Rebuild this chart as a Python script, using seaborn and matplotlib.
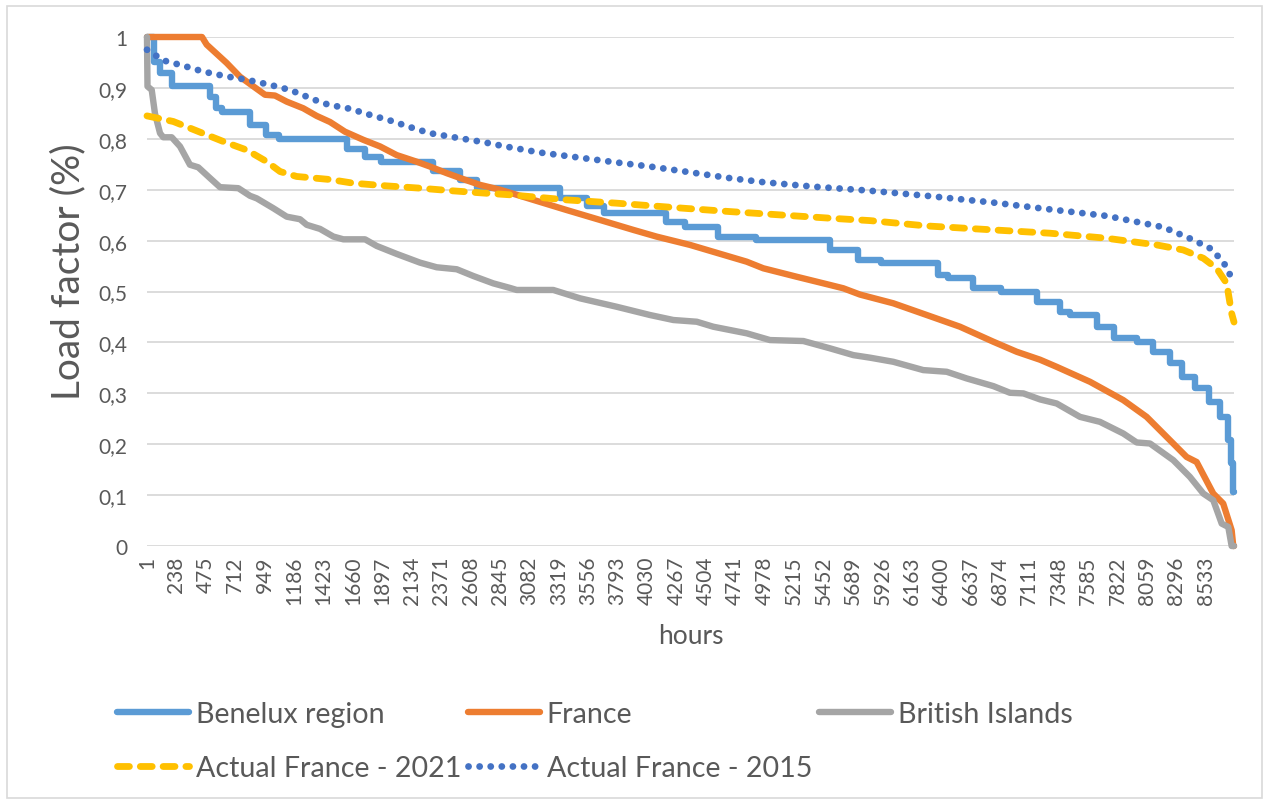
import matplotlib
matplotlib.use("Agg")
import matplotlib.pyplot as plt
from matplotlib.patches import Rectangle
import seaborn as sns

# Load duration curves: hours of the year sorted by load factor
benelux_hours = [1, 57, 106, 202, 509, 557, 605, 831, 960, 1065, 1613, 1758, 1887, 2306,
                 2523, 2660, 3329, 3547, 3684, 4183, 4336, 4602, 4908, 5505, 5730, 5916,
                 6375, 6456, 6657, 6883, 7173, 7358, 7438, 7656, 7793, 7978, 8107, 8244,
                 8341, 8446, 8559, 8647, 8712, 8736, 8752, 8760]
benelux_lf = [1.0, 0.95, 0.93, 0.903, 0.883, 0.86, 0.853, 0.8275, 0.807, 0.80, 0.78, 0.765,
              0.755, 0.736, 0.72, 0.703, 0.683, 0.667, 0.655, 0.637, 0.6275, 0.608, 0.601,
              0.582, 0.562, 0.5555, 0.5325, 0.526, 0.506, 0.4996, 0.48, 0.46, 0.454, 0.431,
              0.408, 0.401, 0.382, 0.359, 0.3325, 0.31, 0.283, 0.254, 0.208, 0.163, 0.106,
              0.106]

france_hours = [1, 444, 482, 643, 750, 858, 952, 1032, 1127, 1260, 1368, 1476, 1596, 1744,
                1879, 2013, 2174, 2281, 2416, 2550, 2684, 2846, 3114, 3383, 3651, 3920, 4108,
                4377, 4564, 4833, 4967, 5236, 5505, 5612, 5746, 6015, 6284, 6552, 6821, 7009,
                7197, 7331, 7600, 7868, 8056, 8217, 8378, 8459, 8593, 8673, 8741, 8754, 8760]
france_lf = [1.0, 1.0, 0.985, 0.949, 0.922, 0.903, 0.8865, 0.885, 0.873, 0.86, 0.845, 0.833,
             0.814, 0.798, 0.785, 0.768, 0.755, 0.7455, 0.7325, 0.7207, 0.7095, 0.70, 0.68,
             0.66, 0.6406, 0.621, 0.6078, 0.5915, 0.578, 0.5586, 0.5456, 0.529, 0.5128,
             0.5063, 0.494, 0.4768, 0.4538, 0.4308, 0.4013, 0.3816, 0.366, 0.352, 0.3226,
             0.2866, 0.2537, 0.2144, 0.175, 0.165, 0.103, 0.0834, 0.031, 0.0, 0.0]

british_hours = [1, 5, 39, 65, 106, 132, 200, 267, 347, 414, 509, 589, 737, 831, 885, 1019,
                 1127, 1234, 1288, 1395, 1502, 1583, 1758, 1852, 2013, 2201, 2335, 2497, 2630,
                 2791, 2926, 2980, 3275, 3490, 3786, 4054, 4242, 4431, 4564, 4834, 5021, 5290,
                 5505, 5693, 5827, 6015, 6256, 6445, 6606, 6821, 6955, 7063, 7197, 7331, 7519,
                 7680, 7868, 7976, 8083, 8271, 8405, 8513, 8593, 8661, 8714, 8741, 8760]
british_lf = [1.0, 0.903, 0.896, 0.85, 0.811, 0.803, 0.803, 0.785, 0.749, 0.744, 0.7227,
              0.705, 0.703, 0.688, 0.683, 0.6636, 0.647, 0.642, 0.631, 0.623, 0.608, 0.6025,
              0.6025, 0.5895, 0.5738, 0.5567, 0.5476, 0.5437, 0.5305, 0.516, 0.507, 0.503,
              0.503, 0.4866, 0.470, 0.4538, 0.444, 0.4406, 0.4308, 0.4178, 0.4046, 0.4027,
              0.3883, 0.375, 0.370, 0.3619, 0.3456, 0.3423, 0.3292, 0.3141, 0.301, 0.2998,
              0.288, 0.280, 0.2537, 0.2439, 0.221, 0.2034, 0.2014, 0.1686, 0.1357, 0.103,
              0.0899, 0.044, 0.0374, 0.0, 0.0]

actual2021_hours = [1, 213, 347, 616, 804, 965, 1073, 1207, 1476, 1663, 1932, 2201, 2469,
                    2738, 2926, 3383, 3786, 4323, 4699, 5102, 5505, 5827, 6284, 6821, 7278,
                    7734, 8137, 8351, 8513, 8620, 8701, 8741, 8752, 8760]
actual2021_lf = [0.845, 0.834, 0.821, 0.7947, 0.778, 0.7553, 0.7357, 0.726, 0.72, 0.7128,
                 0.7075, 0.703, 0.6977, 0.693, 0.69, 0.680, 0.6735, 0.6636, 0.657, 0.6505,
                 0.644, 0.6393, 0.6288, 0.621, 0.6145, 0.6046, 0.5915, 0.5816, 0.5653, 0.5456,
                 0.516, 0.457, 0.447, 0.44]

actual2015_hours = [1, 132, 293, 454, 643, 804, 992, 1153, 1368, 1462, 1637, 1798, 1959, 2120,
                    2281, 2523, 2711, 2886, 3168, 3517, 3786, 4054, 4336, 4699, 4967, 5370,
                    5813, 6284, 6821, 7197, 7734, 8191, 8419, 8566, 8661, 8714, 8741, 8755]
actual2015_lf = [0.975, 0.954, 0.9436, 0.932, 0.9225, 0.916, 0.906, 0.896, 0.875, 0.867,
                 0.859, 0.847, 0.836, 0.823, 0.811, 0.801, 0.7935, 0.785, 0.773, 0.762,
                 0.7535, 0.7455, 0.7357, 0.7227, 0.7148, 0.706, 0.6983, 0.688, 0.6747,
                 0.6636, 0.6485, 0.6263, 0.6027, 0.585, 0.562, 0.5423, 0.5226, 0.515]

hour_ticks = list(range(1, 8761, 237))
hour_tick_labels = [str(h) for h in hour_ticks]
lf_ticks = [0, 0.1, 0.2, 0.3, 0.4, 0.5, 0.6, 0.7, 0.8, 0.9, 1.0]
lf_tick_labels = ["0", "0,1", "0,2", "0,3", "0,4", "0,5", "0,6", "0,7", "0,8", "0,9", "1"]

TEXT = "#595959"
GRID = "#D9D9D9"

sns.set_style("white")
plt.rcParams["font.family"] = ["Lato", "DejaVu Sans"]

W, H = 1264, 803
fig = plt.figure(figsize=(W / 100, H / 100), dpi=100)
ax = fig.add_axes([147 / W, 1 - 547 / H, (1234 - 147) / W, (547 - 38) / H])

series = [
    ("Benelux region", benelux_hours, benelux_lf,
     dict(color="#5B9BD5", lw=4.6, drawstyle="steps-post", solid_joinstyle="round")),
    ("France", france_hours, france_lf,
     dict(color="#ED7D31", lw=4.6, solid_joinstyle="round")),
    ("British Islands", british_hours, british_lf,
     dict(color="#A5A5A5", lw=4.6, solid_joinstyle="round")),
    ("Actual France - 2021", actual2021_hours, actual2021_lf,
     dict(color="#FFC000", lw=4.9, ls=(0, (1.75, 1.6)), dash_capstyle="round")),
    ("Actual France - 2015", actual2015_hours, actual2015_lf,
     dict(color="#4472C4", lw=4.9, ls=(0, (0.01, 1.62)), dash_capstyle="round")),
]

for label, hrs, lf, style in series:
    sns.lineplot(x=hrs, y=lf, ax=ax, label=label, estimator=None, sort=False,
                 clip_on=False, **style)

handles, labels = ax.get_legend_handles_labels()
if ax.get_legend() is not None:
    ax.get_legend().remove()

ax.set_xlim(1, 8760)
ax.set_ylim(0, 1)
ax.set_xticks(hour_ticks)
ax.set_xticklabels(hour_tick_labels, rotation=90)
ax.set_yticks(lf_ticks)
ax.set_yticklabels(lf_tick_labels)
ax.tick_params(axis="both", length=0, labelsize=15, colors=TEXT)
ax.tick_params(axis="x", pad=7)
ax.tick_params(axis="y", pad=14)
ax.grid(axis="y", color=GRID, lw=1.3)
ax.grid(axis="x", visible=False)
ax.set_axisbelow(True)
for s in ax.spines.values():
    s.set_visible(False)

ax.set_xlabel("hours", fontsize=19, color=TEXT)
ax.xaxis.set_label_coords(0.5, -(624 - 547) / 509)
ax.set_ylabel("Load factor (%)", fontsize=28, color=TEXT)
ax.yaxis.set_label_coords(-(147 - 86) / 1087, (547 - 272) / 509)

# Legend laid out on a fixed three-column grid below the plot
col_x = [117, 468, 819]
row_y = [715, 769]
for i, (h, l) in enumerate(zip(handles, labels)):
    r, c = divmod(i, 3)
    fig.legend(handles=[h], labels=[l], loc="center left",
               bbox_to_anchor=(col_x[c] / W, 1 - row_y[r] / H),
               frameon=False, borderpad=0, borderaxespad=0,
               handlelength=2.5, handletextpad=0.25,
               prop=dict(size=20.6), labelcolor=TEXT)

fig.add_artist(Rectangle((7 / W, 1 - 799 / H), (1262 - 7) / W, (799 - 7) / H,
                         transform=fig.transFigure, fill=False, ec=GRID, lw=1.2))

fig.savefig("out.png", dpi=100, facecolor="white")
